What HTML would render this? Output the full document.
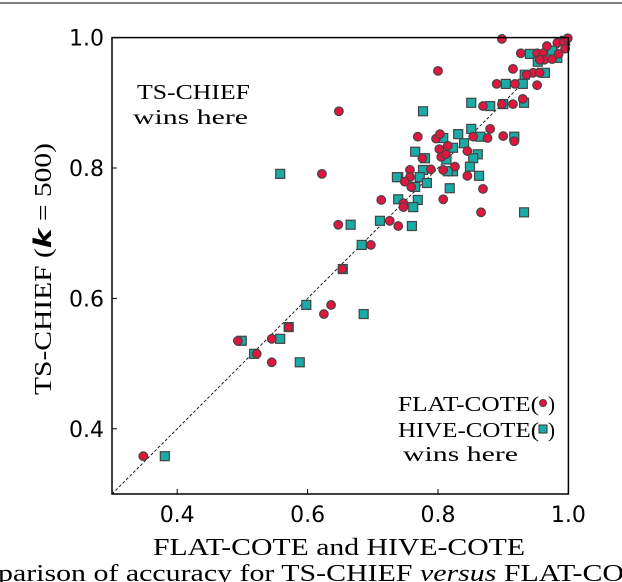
<!DOCTYPE html>
<html><head><meta charset="utf-8"><style>
body{margin:0;background:#fff;width:622px;height:582px;overflow:hidden}
svg{display:block}
.tk{font-family:"DejaVu Sans","Liberation Sans",sans-serif;font-size:22px;fill:#000}
.sf{font-family:"Liberation Serif","DejaVu Serif",serif;fill:#000}
</style></head><body>
<svg id="chart" width="622" height="582">
<line x1="0" y1="3" x2="622" y2="3" stroke="#555" stroke-width="1.5"/>
<g id="plot"></g>
<text class="sf" x="137" y="99" font-size="21" textLength="113" lengthAdjust="spacingAndGlyphs">TS-CHIEF</text>
<text class="sf" x="133" y="124" font-size="21" textLength="115" lengthAdjust="spacingAndGlyphs">wins here</text>
<text class="sf" x="398" y="411" font-size="21" textLength="141" lengthAdjust="spacingAndGlyphs">FLAT-COTE(</text>
<circle cx="543" cy="403" r="3.5" fill="#e0163f" stroke="#444" stroke-width="1"/>
<text class="sf" x="548" y="411" font-size="21">)</text>
<text class="sf" x="398" y="437" font-size="21" textLength="141" lengthAdjust="spacingAndGlyphs">HIVE-COTE(</text>
<rect x="539" y="425" width="8" height="8" fill="#1aaba6" stroke="#333" stroke-width="1"/>
<text class="sf" x="548" y="437" font-size="21">)</text>
<text class="sf" x="403" y="461" font-size="21" textLength="115" lengthAdjust="spacingAndGlyphs">wins here</text>
<text class="sf" x="153" y="555" font-size="24" textLength="372" lengthAdjust="spacingAndGlyphs">FLAT-COTE and HIVE-COTE</text>
<text class="sf" transform="translate(51,395) rotate(-90)" font-size="24" textLength="252" lengthAdjust="spacingAndGlyphs">TS-CHIEF (<tspan font-style="italic" font-weight="bold" font-family="DejaVu Sans">k</tspan> = 500)</text>
<text class="sf" x="-2" y="581" font-size="24" textLength="626" lengthAdjust="spacingAndGlyphs">parison of accuracy for TS-CHIEF <tspan font-style="italic">versus</tspan> FLAT-CO</text>
</svg>
<script>
const xTicks=[0.4,0.6,0.8,1.0];
const yTicks=[0.4,0.6,0.8,1.0];
const flatX=[0.348,0.493,0.522,0.545,0.545,0.571,0.625,0.636,0.653,0.697,0.647,0.622,0.713,0.726,0.739,0.648,0.898,0.927,0.800,0.915,0.890,0.918,0.952,0.869,0.915,0.930,0.898,0.769,0.797,0.803,0.802,0.815,0.854,0.876,0.880,0.900,0.917,0.845,0.805,0.776,0.812,0.826,0.808,0.789,0.757,0.757,0.749,0.759,0.845,0.869,0.808,0.747,0.747,0.866,0.967,0.952,0.961,0.963,0.975,0.956,0.983,0.993,0.995,0.946,0.956,0.936,0.999,0.985];
const flatY=[0.358,0.535,0.515,0.538,0.502,0.556,0.576,0.590,0.645,0.682,0.713,0.791,0.751,0.719,0.711,0.887,0.998,0.976,0.949,0.952,0.929,0.929,0.927,0.895,0.898,0.906,0.898,0.848,0.845,0.852,0.829,0.834,0.848,0.846,0.860,0.849,0.841,0.826,0.817,0.815,0.821,0.802,0.797,0.798,0.797,0.786,0.779,0.771,0.788,0.768,0.752,0.746,0.740,0.732,0.987,0.976,0.976,0.966,0.967,0.966,0.992,0.993,0.983,0.946,0.946,0.943,0.999,0.975];
const hiveX=[0.381,0.558,0.499,0.518,0.558,0.588,0.571,0.598,0.654,0.683,0.666,0.686,0.711,0.739,0.739,0.941,0.983,0.953,0.933,0.964,0.904,0.930,0.777,0.851,0.880,0.900,0.932,0.831,0.851,0.865,0.917,0.808,0.840,0.823,0.765,0.861,0.854,0.813,0.780,0.849,0.863,0.777,0.823,0.815,0.737,0.772,0.783,0.765,0.818,0.769,0.762,0.932,0.760,0.995,0.975];
const hiveY=[0.358,0.791,0.535,0.515,0.538,0.502,0.556,0.590,0.645,0.682,0.713,0.576,0.719,0.752,0.786,0.975,0.969,0.963,0.943,0.946,0.929,0.929,0.887,0.900,0.895,0.898,0.900,0.852,0.860,0.848,0.848,0.846,0.838,0.831,0.825,0.821,0.815,0.813,0.815,0.802,0.788,0.797,0.795,0.795,0.786,0.786,0.777,0.771,0.769,0.751,0.740,0.732,0.711,0.995,0.980];
const X0=112,Y0=494,S=652;
function sx(v){return X0+(v-0.3)*S;}
function sy(v){return Y0-(v-0.3)*S;}
const NS="http://www.w3.org/2000/svg";
const g=document.getElementById('plot');
function mk(t,a){const e=document.createElementNS(NS,t);for(const k in a)e.setAttribute(k,a[k]);g.appendChild(e);return e;}
let d=mk('line',{x1:sx(0.3),y1:sy(0.3),x2:sx(1.0),y2:sy(1.0),stroke:'#222','stroke-width':1,'stroke-dasharray':'3,2'});


for(let i=0;i<hiveX.length;i++){
 const r=mk('rect',{x:sx(hiveX[i])-4.5,y:sy(hiveY[i])-4.5,width:9,height:9,fill:'#1aaba6',stroke:'#444','stroke-width':1.2});
 
 
}
for(let i=0;i<flatX.length;i++){
 const c=mk('circle',{cx:sx(flatX[i]),cy:sy(flatY[i]),r:4.3,fill:'#e0163f',stroke:'#444','stroke-width':1.2});
 
 
}
const fr=mk('rect',{x:sx(0.3),y:sy(1.0),width:S*0.7,height:S*0.7,fill:'none',stroke:'#000','stroke-width':1.5});


xTicks.forEach(v=>{
 const t=mk('line',{x1:sx(v),y1:Y0,x2:sx(v),y2:Y0-5,stroke:'#000'});
 
 
 const l=mk('text',{x:sx(v),y:Y0+28,'text-anchor':'middle',class:'tk'});
 l.textContent=v.toFixed(1);
 
 
});
yTicks.forEach(v=>{
 const t=mk('line',{x1:X0,y1:sy(v),x2:X0+5,y2:sy(v),stroke:'#000'});
 
 
 const l=mk('text',{x:X0-8,y:sy(v)+8,'text-anchor':'end',class:'tk'});
 l.textContent=v.toFixed(1);
 
 
});
</script>
</body></html>
